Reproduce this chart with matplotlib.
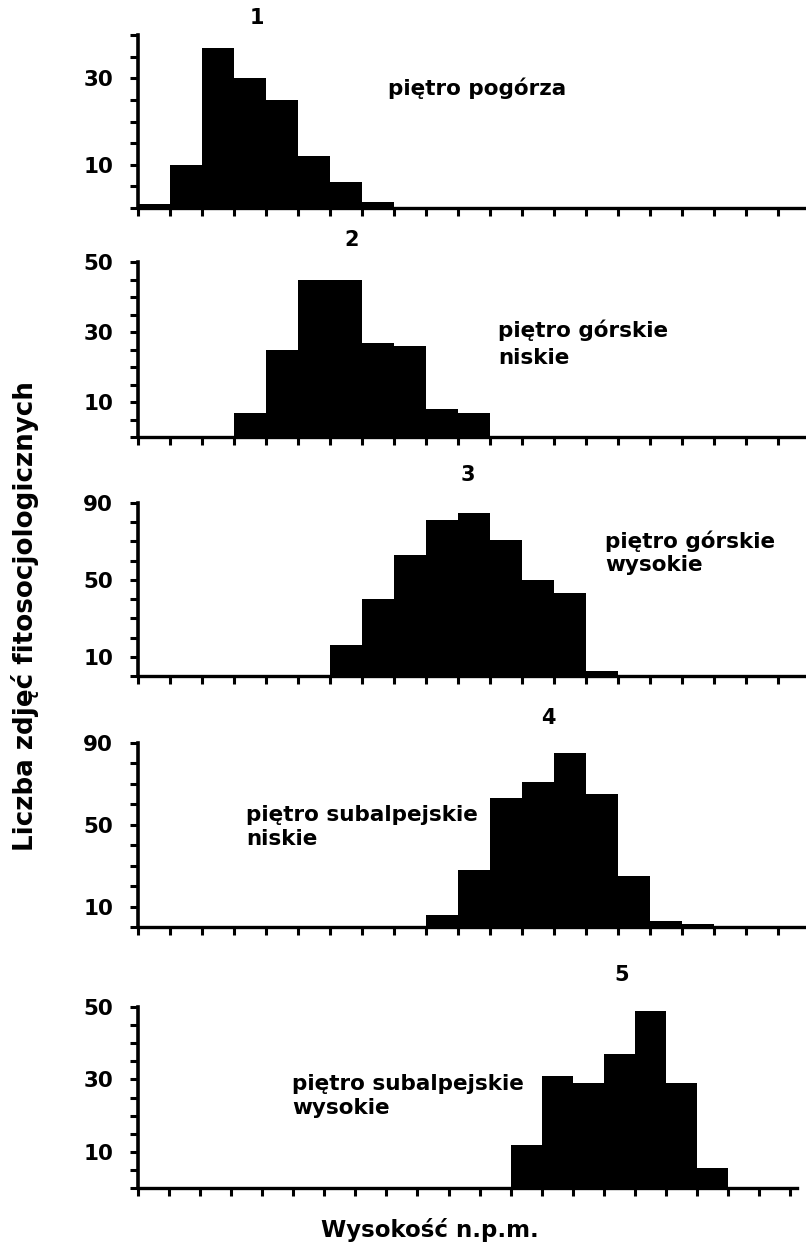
import numpy as np
import matplotlib
matplotlib.use('Agg')
from matplotlib import pyplot as plt

plt.rcParams['font.family'] = ['DejaVu Sans']
plt.rcParams['font.weight'] = 'bold'

# altitude classes (one bar per class), shared by all panels
bins = np.arange(22)

counts_1 = [1, 10, 37, 30, 25, 12, 6, 1.5, 0, 0, 0, 0, 0, 0, 0, 0, 0, 0, 0, 0, 0, 0]
counts_2 = [0, 0, 0, 7, 25, 45, 45, 27, 26, 8, 7, 0, 0, 0, 0, 0, 0, 0, 0, 0, 0, 0]
counts_3 = [0, 0, 0, 0, 0, 0, 16, 40, 63, 81, 85, 71, 50, 43, 2.5, 0, 0, 0, 0, 0, 0, 0]
counts_4 = [0, 0, 0, 0, 0, 0, 0, 0, 0, 6, 28, 63, 71, 85, 65, 25, 3, 1.5, 0, 0, 0, 0]
counts_5 = [0, 0, 0, 0, 0, 0, 0, 0, 0, 0, 0, 0, 12, 31, 29, 37, 49, 29, 5.5, 0, 0, 0]

panel_numbers = ['1', '2', '3', '4', '5']
zone_labels = ['piętro pogórza',
               'piętro górskie\nniskie',
               'piętro górskie\nwysokie',
               'piętro subalpejskie\nniskie',
               'piętro subalpejskie\nwysokie']

y_max = [40, 50, 90, 90, 50]
y_step = [5, 5, 10, 10, 5]
y_labelled = [[10, 30], [10, 30, 50], [10, 50, 90], [10, 50, 90], [10, 30, 50]]

all_counts = [counts_1, counts_2, counts_3, counts_4, counts_5]

W, H = 806, 1253
fig = plt.figure(figsize=(W / 100, H / 100), dpi=100)

# layout in pixels of the reference
left_px = 138
panel_px = [(35, 208), (262, 437), (503, 676), (743, 927), (1007, 1188)]
right_px = [806, 806, 806, 806, 797]
tick_px = [32, 32, 32, 32, 31.05]
number_px = [(257, 18), (352, 240), (468, 475), (548, 718), (622, 975)]
zone_px = [(388, 88), (498, 344), (605, 553), (246, 827), (292, 1096)]
zone_spacing = [1.3, 1.45, 1.2, 1.3, 1.2]

for i in range(5):
    top, bottom = panel_px[i]
    ax = fig.add_axes([left_px / W, 1 - bottom / H, (right_px[i] - left_px) / W, (bottom - top) / H])
    ax.bar(bins, all_counts[i], width=1.0, align='edge', color='black', linewidth=0)

    x_end = (right_px[i] - left_px) / tick_px[i]
    ax.set_xlim(0, x_end)
    ax.set_ylim(0, y_max[i])

    yt = np.arange(0, y_max[i] + 1, y_step[i])
    ax.set_yticks(yt)
    ax.set_yticklabels([str(t) if t in y_labelled[i] else '' for t in yt])
    ax.set_xticks(bins[bins <= x_end])
    ax.set_xticklabels([])

    for s in ['top', 'right']:
        ax.spines[s].set_visible(False)
    ax.spines['left'].set_linewidth(2.6)
    ax.spines['bottom'].set_linewidth(2.4)
    ax.tick_params(axis='y', direction='out', length=6, width=2.2, pad=12, labelsize=15.5)
    ax.tick_params(axis='x', direction='out', length=6, width=2.2)

    nx, ny = number_px[i]
    fig.text(nx / W, 1 - ny / H, panel_numbers[i], ha='center', va='center',
             fontsize=15, fontweight='bold')
    zx, zy = zone_px[i]
    fig.text(zx / W, 1 - zy / H, zone_labels[i], ha='left', va='center',
             fontsize=15.5, fontweight='bold', linespacing=zone_spacing[i])

fig.text(25 / W, 1 - 616 / H, 'Liczba zdjęć fitosocjologicznych', rotation=90,
         ha='center', va='center', fontsize=18.8, fontweight='bold')
fig.text(430 / W, 1 - 1230 / H, 'Wysokość n.p.m.', ha='center', va='center',
         fontsize=16.5, fontweight='bold')

fig.savefig('out.png', dpi=100, facecolor='white')
